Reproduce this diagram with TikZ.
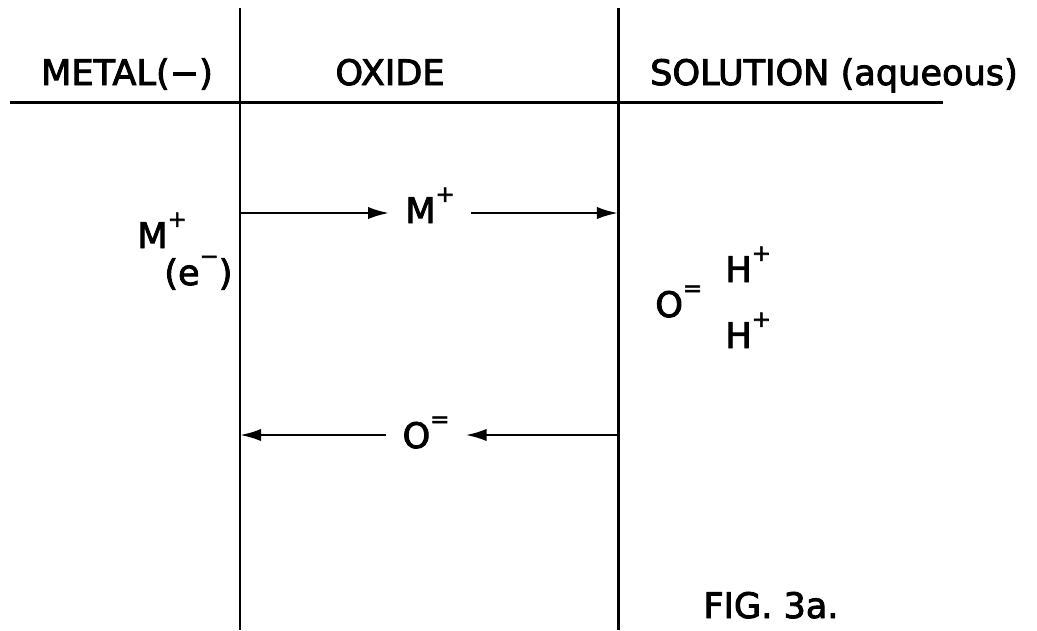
\documentclass[tikz,border=0pt]{standalone}
\usepackage{fontspec}
\setmainfont{DejaVu Sans}[BoldFont=DejaVu Sans,BoldFeatures={FakeBold=2.5}]
\usetikzlibrary{arrows.meta}
\newcommand{\chg}[1]{\raisebox{12pt}{\fontsize{13}{13}\selectfont #1}}

\begin{document}
\begin{tikzpicture}[x=0.02cm,y=-0.02cm,
    >={Latex[length=12pt,width=7pt]},
    boundary/.style={line width=1.7pt},
    phase/.style={font=\fontsize{20}{24}\selectfont\bfseries,anchor=base,inner sep=0pt},
    species/.style={font=\fontsize{20}{24}\selectfont\bfseries,anchor=base,inner sep=0pt},
    ion/.style={species,inner xsep=9pt},
    transport/.style={line width=1.4pt,->}]
\useasboundingbox (0,0) rectangle (1037,630);
% phases and interfaces
\node[phase] (metal) at (127,85) {METAL(−)};
\node[phase] (oxide) at (390,85) {OXIDE};
\node[phase] (soln) at (834,85) {SOLUTION (aqueous)};
\coordinate (hl) at (10,102);
\coordinate (hr) at (943,102);
\coordinate (mt) at (240,8);
\coordinate (mb) at (240,630);
\coordinate (st) at (618,8);
\coordinate (sb) at (618,630);
\draw[boundary] (hl) -- (hr);
\draw[boundary] (mt) -- (mb);
\draw[boundary] (st) -- (sb);
% ion transport through the oxide
\node[ion] (mion) at (430,223) {M\chg{+}};
\coordinate (mfrom) at (240,213);
\coordinate (mto) at (618,213);
\draw[transport] (mfrom) -- (mfrom -| mion.west);
\draw[transport] (mion.east |- mto) -- (mto);
\node[ion] (oion) at (426,448) {O\chg{=}};
\coordinate (ofrom) at (618,435);
\coordinate (oto) at (240,435);
\draw[transport] (ofrom) -- (ofrom -| oion.east);
\draw[transport] (oion.west |- oto) -- (oto);
% species at the interfaces
\node[species,anchor=base west] (mmetal) at (137,248) {M\chg{+}};
\node[species,anchor=base west] (elec) at (164,285) {(e\chg{−})};
\node[species,anchor=base west] (oxy) at (655,317) {O\chg{=}};
\node[species,anchor=base west] (h1) at (725,282) {H\chg{+}};
\node[species,anchor=base west] (h2) at (725,348) {H\chg{+}};
\node[species] (fig) at (771,618) {FIG. 3a.};
\end{tikzpicture}
\end{document}
